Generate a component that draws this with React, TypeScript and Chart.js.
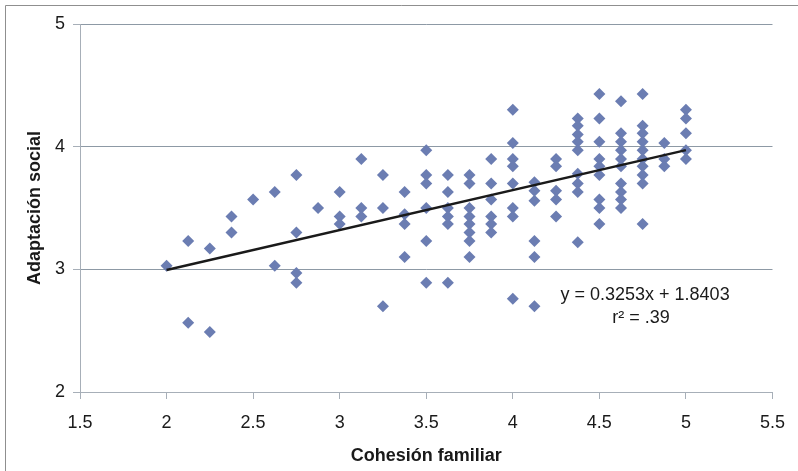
import React, { useEffect, useRef } from 'react';
import { Chart, registerables } from 'chart.js';

Chart.register(...registerables);

// Cohesión familiar levels (x) and the Adaptación social scores observed at each level (y)
const cohesionLevels = [
  2, 2.125, 2.25, 2.375, 2.5, 2.625, 2.75, 2.875, 3, 3.125, 3.25, 3.375, 3.5,
  3.625, 3.75, 3.875, 4, 4.125, 4.25, 4.375, 4.5, 4.625, 4.75, 4.875, 5,
];
const adaptacionByLevel: number[][] = [
  [3.03],
  [3.23, 2.565],
  [3.17, 2.49],
  [3.43, 3.3],
  [3.57],
  [3.63, 3.03],
  [3.77, 3.3, 2.97, 2.89],
  [3.5],
  [3.63, 3.43, 3.37],
  [3.9, 3.5, 3.43],
  [3.77, 3.5, 2.7],
  [3.63, 3.45, 3.37, 3.1],
  [3.97, 3.77, 3.7, 3.5, 3.23, 2.89],
  [3.77, 3.63, 3.5, 3.43, 3.37, 2.89],
  [3.77, 3.7, 3.5, 3.43, 3.37, 3.3, 3.23, 3.1],
  [3.9, 3.7, 3.57, 3.43, 3.37, 3.3],
  [4.3, 4.03, 3.9, 3.84, 3.7, 3.5, 3.43, 2.76],
  [3.71, 3.64, 3.56, 3.23, 3.1, 2.7],
  [3.9, 3.84, 3.64, 3.57, 3.43],
  [4.23, 4.17, 4.1, 4.04, 3.97, 3.78, 3.7, 3.63, 3.22],
  [4.43, 4.23, 4.04, 3.9, 3.84, 3.77, 3.57, 3.5, 3.37],
  [4.37, 4.11, 4.04, 3.97, 3.9, 3.84, 3.7, 3.63, 3.57, 3.5],
  [4.43, 4.17, 4.11, 4.04, 3.97, 3.9, 3.84, 3.77, 3.7, 3.37],
  [4.03, 3.9, 3.84],
  [4.3, 4.23, 4.11, 3.97, 3.9],
];

// Trend line as drawn in the figure
const trendX = [2, 5];
const trendY = [2.994, 3.972];

const xTicks = [1.5, 2, 2.5, 3, 3.5, 4, 4.5, 5, 5.5];
const yTicks = [2, 3, 4, 5];

const xTitle = 'Cohesión familiar';
const yTitle = 'Adaptación social';
const equationLines = ['y = 0.3253x + 1.8403', 'r² = .39'];

const FONT = '"Liberation Sans", Arial, sans-serif';
const TEXT = '#1a1a1a';
const AXIS = '#a7afb8';
const GRID = '#8d99a5';
const MARKER = '#6b7db2';

const decorPlugin = {
  id: 'decor',
  beforeDraw(chart: any) {
    const ctx = chart.ctx;
    ctx.save();
    ctx.fillStyle = '#ffffff';
    ctx.fillRect(0, 0, chart.width, chart.height);
    ctx.strokeStyle = '#8f8f8f';
    ctx.lineWidth = 1;
    ctx.beginPath();
    ctx.moveTo(5.5, chart.height);
    ctx.lineTo(5.5, 5.5);
    ctx.lineTo(chart.width, 5.5);
    ctx.stroke();
    ctx.restore();
  },
  afterDatasetsDraw(chart: any) {
    const ctx = chart.ctx;
    const xs = chart.scales.x;
    const ys = chart.scales.y;
    ctx.save();
    ctx.fillStyle = TEXT;
    ctx.font = `18px ${FONT}`;
    ctx.textAlign = 'center';
    ctx.textBaseline = 'alphabetic';
    ctx.fillText(equationLines[0], xs.getPixelForValue(4.764), ys.getPixelForValue(2.75));
    ctx.fillText(equationLines[1], xs.getPixelForValue(4.74), ys.getPixelForValue(2.56));
    ctx.restore();
  },
};

export default function App() {
  const canvasRef = useRef<HTMLCanvasElement | null>(null);

  useEffect(() => {
    const canvas = canvasRef.current;
    if (!canvas) return;

    const points: { x: number; y: number }[] = [];
    cohesionLevels.forEach((lvl, i) => {
      adaptacionByLevel[i].forEach((v) => points.push({ x: lvl, y: v }));
    });
    const trend = trendX.map((x, i) => ({ x, y: trendY[i] }));

    const chart = new Chart(canvas, {
      type: 'scatter',
      data: {
        datasets: [
          {
            label: 'Tendencia',
            data: trend,
            showLine: true,
            borderColor: '#1a1a1a',
            borderWidth: 2.5,
            pointRadius: 0,
            fill: false,
            order: 0,
          } as any,
          {
            label: 'Datos',
            data: points,
            pointStyle: 'rectRot',
            pointRadius: 6,
            pointHoverRadius: 6,
            backgroundColor: MARKER,
            borderColor: MARKER,
            borderWidth: 0,
            showLine: false,
            order: 1,
          } as any,
        ],
      },
      options: {
        animation: false,
        responsive: false,
        devicePixelRatio: 1,
        layout: { padding: { top: 24, right: 23, left: 0, bottom: 0 } },
        plugins: {
          legend: { display: false },
          tooltip: { enabled: false },
        },
        scales: {
          x: {
            type: 'linear',
            min: 1.5,
            max: 5.5,
            afterBuildTicks: (s: any) => {
              s.ticks = xTicks.map((v) => ({ value: v }));
            },
            afterFit: (s: any) => {
              s.height = 79;
            },
            ticks: {
              font: { family: FONT, size: 18 },
              color: TEXT,
              padding: 13,
              maxRotation: 0,
              callback: (v: any) => String(v),
            },
            grid: {
              drawOnChartArea: false,
              drawTicks: true,
              tickLength: 7,
              color: AXIS,
              tickColor: AXIS,
            },
            border: { display: true, color: AXIS, width: 1 },
            title: {
              display: true,
              text: xTitle,
              font: { family: FONT, size: 18, weight: 'bold' },
              color: TEXT,
              padding: { top: 0, bottom: 4 },
            },
          },
          y: {
            type: 'linear',
            min: 2,
            max: 5,
            afterBuildTicks: (s: any) => {
              s.ticks = yTicks.map((v) => ({ value: v }));
            },
            afterFit: (s: any) => {
              s.width = 80;
            },
            ticks: {
              font: { family: FONT, size: 18 },
              color: TEXT,
              padding: 8,
              callback: (v: any) => String(v),
            },
            grid: {
              drawOnChartArea: true,
              drawTicks: true,
              tickLength: 7,
              color: GRID,
              tickColor: AXIS,
            },
            border: { display: true, color: AXIS, width: 1 },
            title: {
              display: true,
              text: yTitle,
              font: { family: FONT, size: 18, weight: 'bold' },
              color: TEXT,
              padding: { top: 24, bottom: 0 },
            },
          },
        },
      } as any,
      plugins: [decorPlugin],
    });

    return () => chart.destroy();
  }, []);

  return (
    <div style={{ position: 'absolute', left: 0, top: 0, width: 798, height: 471 }}>
      <canvas ref={canvasRef} width={798} height={471} style={{ display: 'block' }} />
    </div>
  );
}
